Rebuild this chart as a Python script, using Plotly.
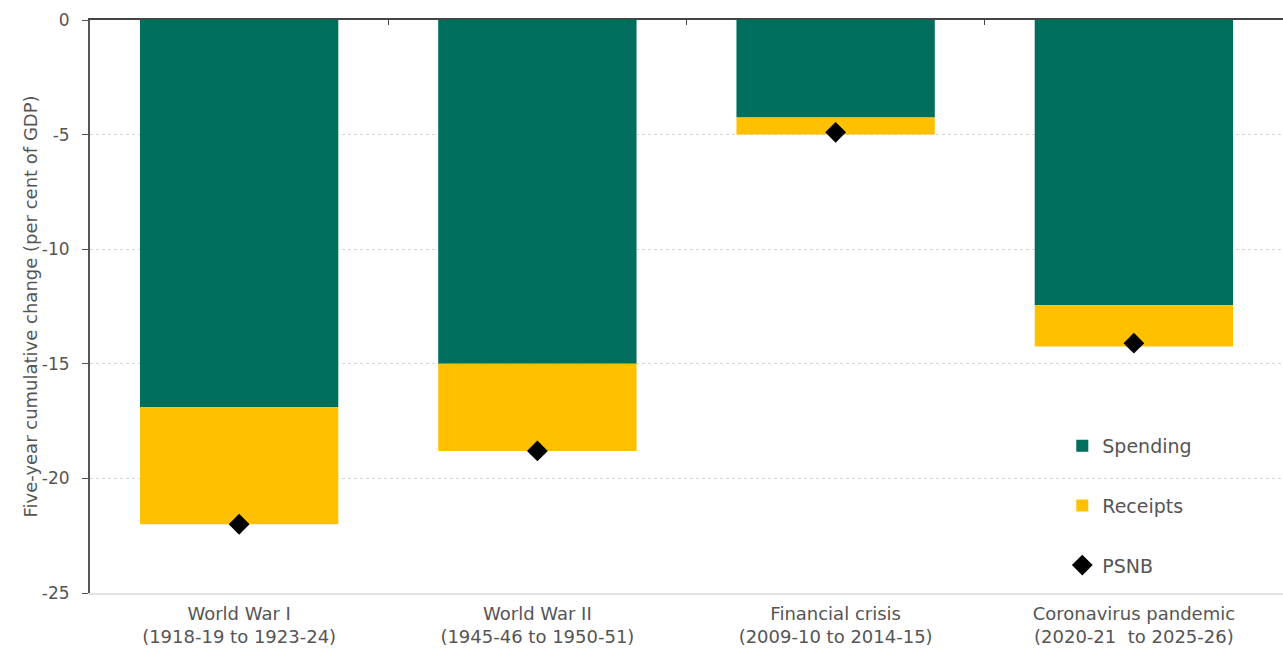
import plotly.graph_objects as go

categories = [
    "World War I<br>(1918-19 to 1923-24)",
    "World War II<br>(1945-46 to 1950-51)",
    "Financial crisis<br>(2009-10 to 2014-15)",
    "Coronavirus pandemic<br>(2020-21  to 2025-26)",
]
spending = [-16.9, -15.0, -4.25, -12.45]
receipts = [-5.1, -3.8, -0.75, -1.8]
psnb = [-22.0, -18.8, -4.9, -14.1]
y_tick_values = [0, -5, -10, -15, -20, -25]
y_tick_labels = ["0", "-5", "-10", "-15", "-20", "-25"]

FONT = "DejaVu Sans"
TXT = "#555555"

fig = go.Figure()
fig.add_trace(go.Bar(x=categories, y=spending, name="Spending", marker_color="#006E5C",
                     marker_line_width=0, legendgroup="a"))
fig.add_trace(go.Bar(x=categories, y=receipts, name="Receipts", marker_color="#FFC000",
                     marker_line_width=0, legendgroup="b"))
fig.add_trace(go.Scatter(x=categories, y=psnb, name="PSNB", mode="markers",
                         marker=dict(symbol="diamond", size=16, color="#000000"),
                         legendgroup="c"))
# invisible trace to carry the top axis line with boundary ticks
fig.add_trace(go.Scatter(x=categories, y=psnb, xaxis="x2", mode="markers",
                         marker=dict(opacity=0), showlegend=False, hoverinfo="skip"))

fig.update_layout(
    width=1283, height=659,
    barmode="relative",
    bargap=0.335,
    plot_bgcolor="white", paper_bgcolor="white",
    margin=dict(l=90, r=0, t=20, b=66, autoexpand=False),
    font=dict(family=FONT, size=14, color=TXT),
    showlegend=True,
    legend=dict(x=0.815, y=0.29, xanchor="left", yanchor="top",
                bgcolor="rgba(0,0,0,0)", font=dict(size=19, color=TXT),
                tracegroupgap=32, itemwidth=30),
    xaxis=dict(showline=True, linecolor="#e2e2e2", linewidth=2, ticks="",
               ticklabelstandoff=3,
               tickfont=dict(size=18, color=TXT), showgrid=False, automargin=False),
    xaxis2=dict(overlaying="x", side="top", matches="x", showline=True,
                linecolor="#444444", linewidth=2, ticks="inside", ticklen=5,
                tickcolor="#444444", tickson="boundaries", showticklabels=False,
                showgrid=False, automargin=False),
    yaxis=dict(range=[-25, 0], tickvals=y_tick_values, ticktext=y_tick_labels,
               showline=True, linecolor="#555555", linewidth=2,
               ticks="outside", ticklen=6, tickcolor="#555555",
               ticklabelstandoff=9,
               tickfont=dict(size=17, color=TXT),
               showgrid=True, gridcolor="#d5d5d5", griddash="dot", gridwidth=1,
               zeroline=False, automargin=False,
               title=dict(text="Five-year cumulative change (per cent of GDP)",
                          font=dict(size=18, color=TXT),
                          standoff=0)),
)

fig.write_html("out.html", config={"displayModeBar": False},
               post_script="document.body.style.margin='0';")
